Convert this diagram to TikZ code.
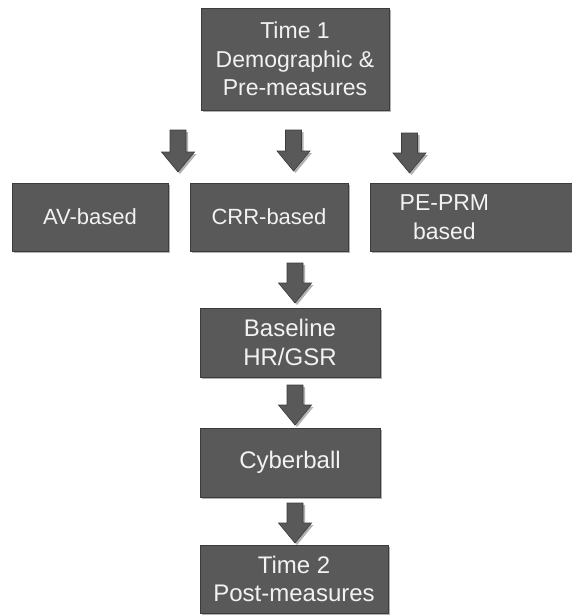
\documentclass[tikz,border=0pt]{standalone}
\usepackage{fontspec}
\setmainfont{Liberation Sans}
\usetikzlibrary{calc,positioning,shadows}
\definecolor{stagegray}{RGB}{89,89,89}
\definecolor{stageedge}{RGB}{60,60,60}
\definecolor{stagetext}{RGB}{242,242,242}
\tikzset{
  stage/.style={draw=stageedge,line width=0.8pt,fill=stagegray,text=stagetext,
    inner sep=0pt,align=center,
    drop shadow={shadow xshift=2pt,shadow yshift=-2pt,opacity=.3,fill=black},
    font=\fontsize{24}{28.5}\selectfont},
  flowarrow/.style={draw=stageedge,line width=0.6pt,fill=stagegray,
    drop shadow={shadow xshift=2pt,shadow yshift=-2pt,opacity=.3,fill=black}}
}
\newcommand{\downblock}[2]{%
  \draw[flowarrow] ($(#1)+(-8,0)$) -- ($(#1)+(8,0)$) -- ($(#2)+(8,-20)$)
    -- ($(#2)+(16.5,-20)$) -- (#2) -- ($(#2)+(-16.5,-20)$)
    -- ($(#2)+(-8,-20)$) -- cycle;}
\begin{document}
\begin{tikzpicture}[x=1pt,y=-1pt]
 \useasboundingbox[fill=white] (0,0) rectangle (571,615);
 % stages
 \node[stage,minimum width=188pt,minimum height=102pt,
   font=\fontsize{23}{28.5}\selectfont] (time1) at (295,59)
   {Time 1\\Demographic \&\\Pre-measures};
 \node[stage,minimum width=156pt,minimum height=68pt,
   font=\fontsize{22}{27}\selectfont] (av) at (90,217) {AV-based};
 \node[stage,minimum width=158pt,minimum height=68pt,
   font=\fontsize{22}{27}\selectfont] (crr) at (269,217) {CRR-based};
 \node[stage,anchor=west,minimum width=205pt,minimum height=68pt,
   font=\fontsize{23}{28.5}\selectfont] (peprm) at (370,217)
   {PE-PRM\rule{57pt}{0pt}\\based\rule{57pt}{0pt}};
 \node[stage,minimum width=180pt,minimum height=69pt] (baseline) at (290,342.5)
   {Baseline\\HR/GSR};
 \node[stage,minimum width=180pt,minimum height=69pt] (cyber) at (290,462.5)
   {Cyberball};
 \node[stage,minimum width=188pt,minimum height=68pt] (time2) at (294,579)
   {Time 2\\Post-measures};
 % block arrows
 \coordinate (a1s) at (178,130);   \coordinate (a1e) at (178,172);
 \coordinate (a2s) at (293.5,130); \coordinate (a2e) at (293.5,171);
 \coordinate (a3s) at (409.5,133); \coordinate (a3e) at (409.5,173);
 \coordinate (a4s) at (295,263);   \coordinate (a4e) at (295,303);
 \coordinate (a5s) at (295,385);   \coordinate (a5e) at (295,425);
 \coordinate (a6s) at (295,503);   \coordinate (a6e) at (295,543);
 \downblock{a1s}{a1e}
 \downblock{a2s}{a2e}
 \downblock{a3s}{a3e}
 \downblock{a4s}{a4e}
 \downblock{a5s}{a5e}
 \downblock{a6s}{a6e}
\end{tikzpicture}
\end{document}
